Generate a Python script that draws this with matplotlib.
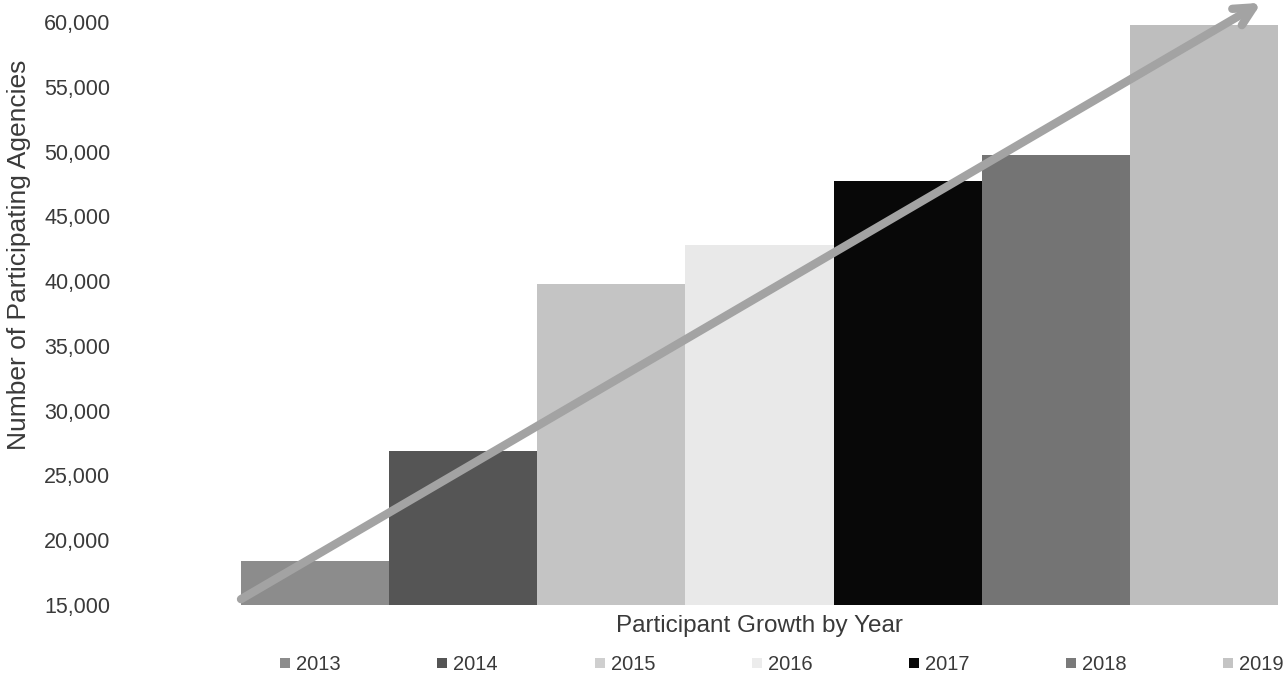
import numpy as np
import matplotlib
matplotlib.use('Agg')
from matplotlib import pyplot as plt
from matplotlib.ticker import FuncFormatter
from matplotlib.lines import Line2D

plt.rcParams['font.family'] = ['Liberation Sans', 'DejaVu Sans']

years = ['2013', '2014', '2015', '2016', '2017', '2018', '2019']
agencies = [18400, 26900, 39800, 42800, 47700, 49700, 59800]
barColors = ['#8c8c8c', '#555555', '#c4c4c4', '#e9e9e9', '#080808', '#747474', '#bebebe']
markerColors = ['#8c8c8c', '#555555', '#cfcfcf', '#ececec', '#080808', '#7a7a7a', '#c4c4c4']

textColor = '#3a3a3a'

fig = plt.figure(figsize=(12.84, 6.81), dpi=100)
ax = fig.add_axes([241 / 1284, 76 / 681, 1037 / 1284, 583 / 681])

x = np.arange(len(years))
ax.bar(x, np.array(agencies) - 15000, bottom=15000, width=1.0, color=barColors, linewidth=0)

ax.set_xlim(-0.5, len(years) - 0.5)
ax.set_ylim(15000, 60000)
ax.set_yticks(np.arange(15000, 60001, 5000))
ax.yaxis.set_major_formatter(FuncFormatter(lambda v, p: '{:,.0f}'.format(v)))
ax.tick_params(axis='y', length=0, pad=94, labelsize=15.5, labelcolor=textColor)
ax.set_xticks([])
for s in ax.spines.values():
    s.set_visible(False)

ax.set_ylabel('Number of Participating Agencies', fontsize=19, color=textColor)
ax.yaxis.set_label_coords(-0.2025, 0.60)
ax.set_xlabel('Participant Growth by Year', fontsize=17.5, color=textColor)
ax.xaxis.set_label_coords(0.5, -0.018)

# trend arrow
ax.annotate('', xy=(0.984, 1.033), xytext=(0.0, 0.01), xycoords='axes fraction',
            arrowprops=dict(arrowstyle='->', lw=6, color='#a3a3a3', mutation_scale=34,
                            shrinkA=0, shrinkB=0), annotation_clip=False)

handles = [Line2D([], [], marker='s', linestyle='none', markersize=7.5,
                  markerfacecolor=c, markeredgewidth=0) for c in markerColors]
fig.legend(handles, years, loc='center left', ncol=7, mode='expand',
           bbox_to_anchor=(279 / 1284, 16 / 681, 1005 / 1284, 0.0), frameon=False,
           fontsize=14.5, labelcolor=textColor, handlelength=0.6, handletextpad=0.25,
           borderaxespad=0, borderpad=0)

fig.savefig('out.png', dpi=100, facecolor='white')
